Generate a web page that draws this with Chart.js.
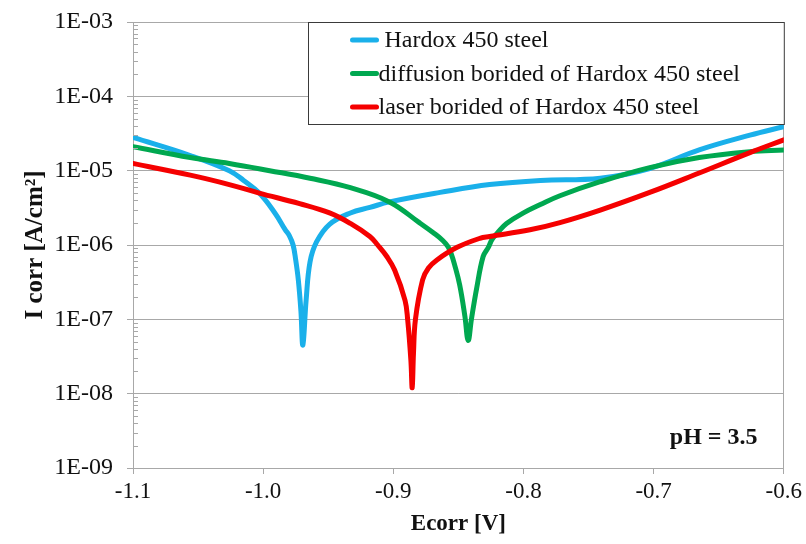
<!DOCTYPE html>
<html>
<head>
<meta charset="utf-8">
<script src="https://cdn.jsdelivr.net/npm/chart.js@4.4.0/dist/chart.umd.min.js"></script>
<style>
  html, body { margin: 0; padding: 0; background: #fff; }
  #wrap { width: 806px; height: 544px; }
</style>
</head>
<body>
<div id="wrap"><canvas id="myChart" width="806" height="544"></canvas></div>
<script>
// Ecorr [V] / Icorr [A/cm2]
var hardoxE = [-1.100, -1.056, -1.026, -1.015, -1.003, -0.991, -0.983, -0.980, -0.977, -0.975, -0.973, -0.971, -0.9695, -0.967, -0.964, -0.959, -0.949, -0.933, -0.918, -0.903, -0.864, -0.826, -0.787, -0.741, -0.703, -0.665, -0.626, -0.600];
var hardoxI = [2.8e-5, 1.6e-5, 1.0e-5, 7.4e-6, 5.0e-6, 2.7e-6, 1.6e-6, 1.35e-6, 1.0e-6, 6.3e-7, 3.4e-7, 1.3e-7, 4.5e-8, 1.8e-7, 5.9e-7, 1.1e-6, 1.9e-6, 2.7e-6, 3.2e-6, 3.8e-6, 5.1e-6, 6.5e-6, 7.4e-6, 7.9e-6, 1.07e-5, 1.9e-5, 3.0e-5, 3.9e-5];

var diffE = [-1.100, -1.056, -1.026, -0.995, -0.964, -0.933, -0.903, -0.880, -0.869, -0.862, -0.858, -0.8555, -0.853, -0.849, -0.845, -0.8425, -0.840, -0.836, -0.831, -0.827, -0.824, -0.820, -0.813, -0.800, -0.787, -0.772, -0.741, -0.703, -0.665, -0.626, -0.600];
var diffI = [2.1e-5, 1.5e-5, 1.25e-5, 1.0e-5, 7.9e-6, 5.9e-6, 3.8e-6, 2.0e-6, 1.45e-6, 1.15e-6, 9.5e-7, 7.6e-7, 5.5e-7, 2.9e-7, 1.1e-7, 5.2e-8, 1.0e-7, 2.6e-7, 7.0e-7, 9.3e-7, 1.2e-6, 1.45e-6, 1.95e-6, 2.7e-6, 3.5e-6, 4.6e-6, 7.1e-6, 1.1e-5, 1.5e-5, 1.8e-5, 1.9e-5];

var laserE = [-1.100, -1.056, -1.026, -1.003, -0.972, -0.949, -0.933, -0.918, -0.912, -0.905, -0.899, -0.891, -0.889, -0.8865, -0.8855, -0.8845, -0.883, -0.8775, -0.873, -0.8665, -0.851, -0.8335, -0.826, -0.795, -0.772, -0.741, -0.703, -0.665, -0.626, -0.600];
var laserI = [1.25e-5, 8.7e-6, 6.5e-6, 5.0e-6, 3.6e-6, 2.7e-6, 1.95e-6, 1.3e-6, 1.0e-6, 7.0e-7, 4.6e-7, 1.8e-7, 1.0e-7, 2.8e-8, 1.2e-8, 3.5e-8, 1.0e-7, 3.4e-7, 4.9e-7, 6.3e-7, 9.3e-7, 1.23e-6, 1.3e-6, 1.6e-6, 2.0e-6, 2.95e-6, 5.1e-6, 9.3e-6, 1.75e-5, 2.6e-5];

var seriesNames = [" Hardox 450 steel", "diffusion borided of Hardox 450 steel", "laser borided of Hardox 450 steel"];
var seriesColors = ["#1AB0EA", "#00A850", "#F50000"];

var xTickValues = [-1.1, -1.0, -0.9, -0.8, -0.7, -0.6];
var xTickLabels = ["-1.1", "-1.0", "-0.9", "-0.8", "-0.7", "-0.6"];
var yTickValues = [1e-9, 1e-8, 1e-7, 1e-6, 1e-5, 1e-4, 1e-3];
var yTickLabels = ["1E-09", "1E-08", "1E-07", "1E-06", "1E-05", "1E-04", "1E-03"];

var serif = "'Liberation Serif', 'Times New Roman', serif";
var gridGray = "#A8A8A8";

function toPoints(xs, ys) {
  var pts = [];
  for (var i = 0; i < xs.length; i++) pts.push({ x: xs[i], y: ys[i] });
  return pts;
}

function makeSet(idx, xs, ys, order) {
  return {
    label: seriesNames[idx],
    data: toPoints(xs, ys),
    borderColor: seriesColors[idx],
    backgroundColor: seriesColors[idx],
    borderWidth: 5,
    pointRadius: 0,
    showLine: true,
    tension: 0.4,
    borderJoinStyle: "round",
    borderCapStyle: "round",
    order: order
  };
}

// minor ticks on the y axis, legend box and the pH note
var extras = {
  id: "extras",
  afterDraw: function (chart) {
    var c = chart.ctx, area = chart.chartArea, ys = chart.scales.y;
    c.save();
    // minor ticks inside the axis
    c.strokeStyle = gridGray;
    c.lineWidth = 1;
    for (var d = 0; d < yTickValues.length - 1; d++) {
      for (var m = 2; m <= 9; m++) {
        var py = Math.round(ys.getPixelForValue(yTickValues[d] * m)) + 0.5;
        c.beginPath();
        c.moveTo(area.left, py);
        c.lineTo(area.left + 5, py);
        c.stroke();
      }
    }
    // legend
    var bx = area.left + 175.5, by = area.top + 0.5, bw = area.right - area.left - 175, bh = 102;
    c.fillStyle = "#fff";
    c.fillRect(bx, by, bw, bh);
    c.strokeStyle = "#3A3A3A";
    c.lineWidth = 1;
    c.strokeRect(bx, by, bw, bh);
    c.font = "24px " + serif;
    c.textBaseline = "middle";
    c.textAlign = "left";
    for (var i = 0; i < seriesNames.length; i++) {
      var ry = by + 17.5 + i * 33.5;
      c.strokeStyle = seriesColors[i];
      c.lineWidth = 5;
      c.lineCap = "round";
      c.beginPath();
      c.moveTo(bx + 44, ry);
      c.lineTo(bx + 68, ry);
      c.stroke();
      c.fillStyle = "#111";
      c.fillText(seriesNames[i], bx + 70, ry + 1);
    }
    // pH note
    c.font = "bold 24px " + serif;
    c.fillStyle = "#111";
    c.textAlign = "left";
    c.fillText("pH = 3.5", area.right - 114, area.bottom - 30);
    c.restore();
  }
};

var ctx = document.getElementById("myChart");

var myChart = new Chart(ctx, {
  type: "scatter",
  data: {
    datasets: [
      makeSet(0, hardoxE, hardoxI, 2),
      makeSet(1, diffE, diffI, 1),
      makeSet(2, laserE, laserI, 0)
    ]
  },
  options: {
    responsive: false,
    animation: false,
    devicePixelRatio: 1,
    layout: { padding: { left: 0, top: 22, right: 22, bottom: 0 } },
    plugins: {
      legend: { display: false },
      tooltip: { enabled: false }
    },
    scales: {
      x: {
        type: "linear",
        min: -1.1,
        max: -0.6,
        afterBuildTicks: function (s) {
          s.ticks = xTickValues.map(function (v) { return { value: v }; });
        },
        afterFit: function (s) { s.height = 76; },
        ticks: {
          color: "#111",
          font: { family: serif, size: 23 },
          padding: 4,
          maxRotation: 0,
          autoSkip: false,
          callback: function (v, i) { return xTickLabels[i]; }
        },
        grid: {
          color: function (c) { return c.index === xTickValues.length - 1 ? gridGray : "rgba(0,0,0,0)"; },
          tickColor: gridGray,
          tickLength: 6
        },
        border: { color: gridGray },
        title: {
          display: true,
          text: "Ecorr [V]",
          color: "#111",
          font: { family: serif, size: 23, weight: "bold" },
          padding: { top: 0, bottom: 6 }
        }
      },
      y: {
        type: "logarithmic",
        min: 1e-9,
        max: 1e-3,
        afterBuildTicks: function (s) {
          s.ticks = yTickValues.map(function (v) { return { value: v }; });
        },
        afterFit: function (s) {
          s.width = 133;
          s.paddingTop = 0;
          s.paddingBottom = 0;
        },
        ticks: {
          color: "#111",
          font: { family: serif, size: 24 },
          padding: 14,
          autoSkip: false,
          callback: function (v, i) { return yTickLabels[i]; }
        },
        grid: {
          color: gridGray,
          tickLength: 6
        },
        border: { color: gridGray },
        title: {
          display: true,
          text: "I corr [A/cm²]",
          color: "#111",
          font: { family: serif, size: 25, weight: "bold" },
          padding: { top: 21, bottom: 4 }
        }
      }
    }
  },
  plugins: [extras]
});
</script>
</body>
</html>
